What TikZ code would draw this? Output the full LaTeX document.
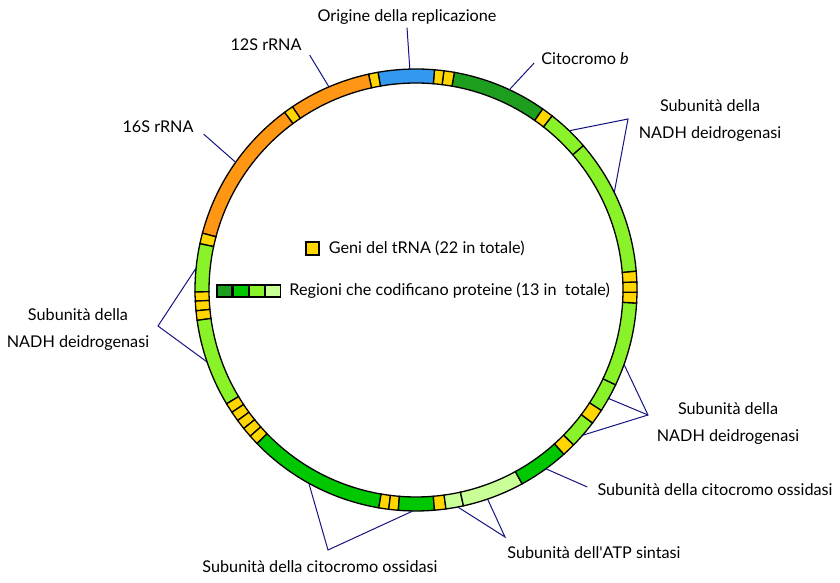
\documentclass[tikz,border=0pt]{standalone}
\usepackage{fontspec}
\setmainfont{Lato}
\usetikzlibrary{positioning}
\definecolor{cytbgreen}{RGB}{30,158,30}
\definecolor{coxgreen}{RGB}{0,200,0}
\definecolor{ndgreen}{RGB}{138,242,40}
\definecolor{atpgreen}{RGB}{200,255,150}
\definecolor{trnayellow}{RGB}{255,214,0}
\definecolor{rrnaorange}{RGB}{255,150,20}
\definecolor{oriblue}{RGB}{51,153,238}
\definecolor{leadblue}{RGB}{20,20,130}
\tikzset{
  seg/.style={draw=black, line width=1.3pt, line join=miter},
  lead/.style={draw=leadblue, line width=1pt},
  lbl/.style={font=\fontsize{16.2}{27}\selectfont, align=center, inner sep=0pt},
  key/.style={rectangle, draw=black, line width=1.2pt, minimum width=15pt,
    minimum height=12pt, inner sep=0pt},
}
\newcommand{\Ro}{221pt}
\newcommand{\Ri}{207pt}

\begin{document}
\begin{tikzpicture}[x=1pt, y=1pt, node distance=8pt]
\useasboundingbox (0,0) rectangle (840,583);
\coordinate (c) at (416,293);
% ring
\foreach \a/\b/\col in {55/80/cytbgreen, 80/82.75/trnayellow, 82.75/85.2/trnayellow,
  85.2/99.9/oriblue, 99.9/102.4/trnayellow, 102.4/124/rrnaorange, 124/126.5/trnayellow,
  126.5/165.1/rrnaorange, 165.1/167.9/trnayellow, 167.9/180.5/ndgreen,
  180.5/182.9/trnayellow, 182.9/185.4/trnayellow, 185.4/187.9/trnayellow,
  187.9/211/ndgreen, 211/213.6/trnayellow, 213.6/216.2/trnayellow,
  216.2/218.8/trnayellow, 218.8/221.4/trnayellow, 221.4/224/trnayellow,
  224/260.3/coxgreen, 260.3/262.9/trnayellow, 262.9/265.4/trnayellow,
  265.4/274.8/coxgreen, 274.8/277.8/trnayellow, 277.8/282.4/atpgreen,
  282.4/298.7/atpgreen, 298.7/312/coxgreen, 312/315.5/trnayellow,
  315.5/323/ndgreen, 323/327/trnayellow, 327/334.6/ndgreen, 334.6/356.6/ndgreen,
  356.6/359.4/trnayellow, 359.4/362.1/trnayellow, 362.1/364.9/trnayellow,
  364.9/400.8/ndgreen, 400.8/412/ndgreen, 412/415/trnayellow}
  \filldraw[seg, fill=\col] ([shift={(\a:\Ro)}]c) arc[start angle=\a, end angle=\b, radius=\Ro]
    -- ([shift={(\b:\Ri)}]c) arc[start angle=\b, end angle=\a, radius=\Ri] -- cycle;

% labels
\node[lbl] (ori) at (407,566) {Origine della replicazione};
\node[lbl] (rrn12) at (266,538) {12S rRNA};
\node[lbl] (rrn16) at (158,456) {16S rRNA};
\node[lbl] (cytb) at (585,524) {Citocromo \textit{b}};
\node[lbl] (ndA) at (710,462) {Subunità della\\NADH deidrogenasi};
\node[lbl] (ndB) at (78,253) {Subunità della\\NADH deidrogenasi};
\node[lbl] (ndC) at (728,159) {Subunità della\\NADH deidrogenasi};
\node[lbl] (coxA) at (715,93) {Subunità della citocromo ossidasi};
\node[lbl] (atp) at (594,30) {Subunità dell\textquotesingle ATP sintasi};
\node[lbl] (coxB) at (320,16) {Subunità della citocromo ossidasi};

% points on the ring
\foreach \n/\t in {pOri/91.6, p12/113.2, p16/144.7, pCytb/65, pA1/46.1, pA2/26.2,
  pB1/174.3, pB2/199, pC1/-19.7, pC2/-29.4, pC3/-41.1, pCox/-54,
  pAtp1/-71.1, pAtp2/-79.1, pCoxB1/-90.8, pCoxB2/-119}
  \coordinate (\n) at ([shift={(\t:\Ro)}]c);
\coordinate (apA) at (628,464);
\coordinate (apB) at (158,257);
\coordinate (apC) at (648,168);
\coordinate (apAtp) at (505,46);
\coordinate (apCox) at (328,33);

\draw[lead] ([yshift=-3pt]ori.south) -- (pOri);
\draw[lead] ([shift={(8pt,-4pt)}]rrn12.south east) -- (p12);
\draw[lead] ([shift={(10pt,-1pt)}]rrn16.south east) -- (p16);
\draw[lead] ([shift={(-7pt,-4pt)}]cytb.west) -- (pCytb);
\draw[lead] (pA1) -- (apA) -- (pA2);
\draw[lead] (pB1) -- (apB) -- (pB2);
\draw[lead] (pC1) -- (apC) -- (pC3);
\draw[lead] (pC2) -- (apC);
\draw[lead] (pCox) -- ([shift={(-10pt,3pt)}]coxA.west);
\draw[lead] (pAtp1) -- (apAtp) -- (pAtp2);
\draw[lead] (pCoxB1) -- (apCox) -- (pCoxB2);

% legend
\node[key, fill=trnayellow, minimum width=13pt, minimum height=13pt] (kt) at (312.5,334.5) {};
\node[lbl, right=9pt of kt] (ktxt) {Geni del tRNA (22 in totale)};
\node[key, fill=cytbgreen] (k1) at (224.5,292) {};
\node[key, fill=coxgreen, right=0pt of k1] (k2) {};
\node[key, fill=ndgreen, right=0pt of k2] (k3) {};
\node[key, fill=atpgreen, right=0pt of k3] (k4) {};
\node[lbl, right=8pt of k4] (kptxt) {Regioni che codificano proteine (13 in~ totale)};
\end{tikzpicture}
\end{document}
